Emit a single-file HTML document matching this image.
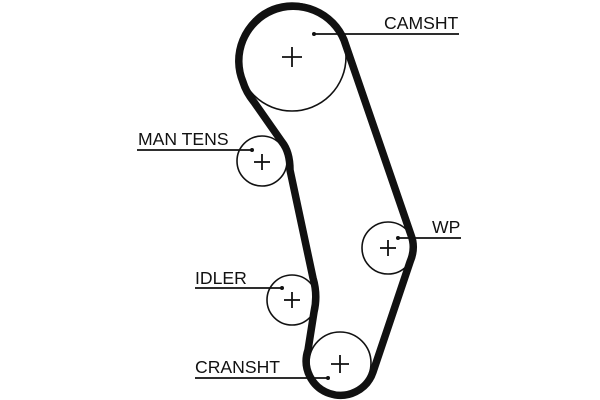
<!DOCTYPE html>
<html><head><meta charset="utf-8"><style>
html,body{margin:0;padding:0;background:#fff;}
svg{display:block;}
text{font-family:"Liberation Sans",Arial,sans-serif;font-size:17.6px;fill:#111;}
</style></head><body>
<svg width="600" height="400" viewBox="0 0 600 400" xmlns="http://www.w3.org/2000/svg">
<g fill="none" stroke="#111" stroke-width="1.6">
<circle cx="292" cy="57" r="54"/>
<circle cx="262" cy="161" r="25"/>
<circle cx="388" cy="248" r="26"/>
<circle cx="292" cy="300" r="25"/>
<circle cx="340" cy="363" r="31"/>
</g>
<g stroke="#111" stroke-width="1.8">
<line x1="282" y1="57" x2="302" y2="57"/><line x1="292" y1="47" x2="292" y2="67"/>
<line x1="254" y1="162" x2="270" y2="162"/><line x1="262" y1="154" x2="262" y2="170"/>
<line x1="380" y1="248" x2="396" y2="248"/><line x1="388" y1="240" x2="388" y2="256"/>
<line x1="284" y1="300" x2="300" y2="300"/><line x1="292" y1="292" x2="292" y2="308"/>
<line x1="331" y1="364" x2="349" y2="364"/><line x1="340" y1="355" x2="340" y2="373"/>
</g>
<path d="M 344,40 A 54 54 0 1 0 243,82 Q 246,92 254,102 L 282,142 Q 290,152 290,170 L 313,278 Q 318,295 314,312 L 308,350 A 34 34 0 0 0 373,372 L 410,262 Q 416,248 411,235 Z" fill="none" stroke="#111" stroke-width="7.5" stroke-linejoin="round"/>
<g stroke="#111" stroke-width="1.8">
<line x1="314" y1="34" x2="459" y2="34"/>
<line x1="137" y1="150" x2="252" y2="150"/>
<line x1="398" y1="238" x2="461" y2="238"/>
<line x1="195" y1="288" x2="282" y2="288"/>
<line x1="195" y1="378" x2="328" y2="378"/>
</g>
<g fill="#111">
<circle cx="314" cy="34" r="2"/><circle cx="252" cy="150" r="2"/><circle cx="398" cy="238" r="2"/><circle cx="282" cy="288" r="2"/><circle cx="328" cy="378" r="2"/>
</g>
<text x="384" y="29">CAMSHT</text>
<text x="138" y="145">MAN TENS</text>
<text x="432" y="233">WP</text>
<text x="195" y="284">IDLER</text>
<text x="195" y="373">CRANSHT</text>
</svg>
</body></html>
